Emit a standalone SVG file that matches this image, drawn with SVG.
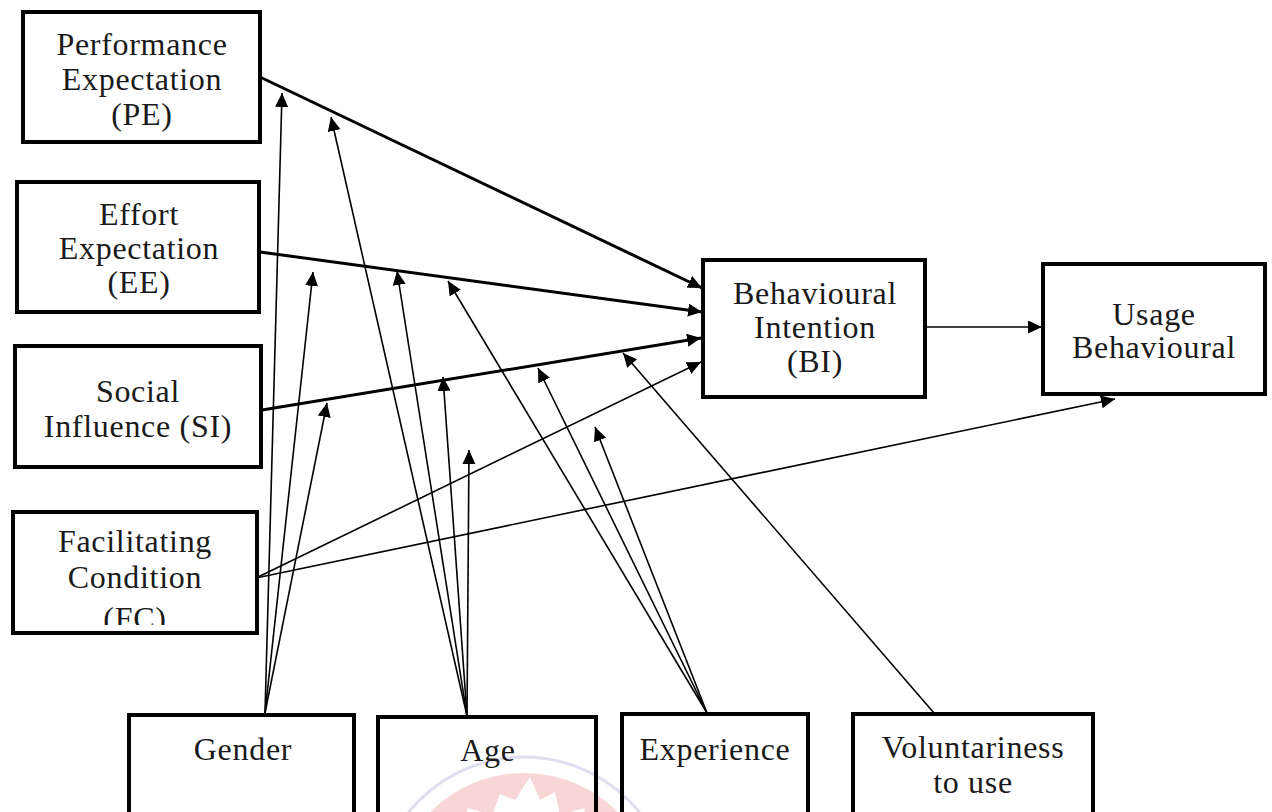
<svg xmlns="http://www.w3.org/2000/svg" width="1272" height="812" viewBox="0 0 1272 812">
<style>
.box{fill:none;stroke:#000;stroke-width:4}
.lbl{font-family:"Liberation Serif","Times New Roman",serif;font-size:32px;letter-spacing:0.7px;fill:#1a1a1a;text-anchor:middle}
.thick{stroke:#000;stroke-width:3;fill:none;marker-end:url(#ah)}
.thin{stroke:#000;stroke-width:1.6;fill:none;marker-end:url(#ah)}
</style>
<defs>
<marker id="ah" markerUnits="userSpaceOnUse" markerWidth="16" markerHeight="14" refX="14" refY="6.5" orient="auto">
<path d="M0,0 L14,6.5 L0,13 Z" fill="#000"/>
</marker>
<clipPath id="fcclip"><rect x="0" y="500" width="300" height="125"/></clipPath>
</defs>
<rect width="1272" height="812" fill="#fff"/>
<g id="watermark" opacity="0.6">
<circle cx="524" cy="905" r="148" fill="none" stroke="#c9c9e4" stroke-width="3"/>
<circle cx="524" cy="905" r="132" fill="#f6bcbc"/>
<polygon fill="#fff" points="530,777 540,800 555,792 560,815 585,808 580,830 460,830 468,808 492,815 500,794 515,800"/>
</g>
<g id="PE"><rect class="box" x="23" y="12" width="237" height="130"/>
<text class="lbl" x="142" y="55">Performance</text><text class="lbl" x="142" y="90">Expectation</text><text class="lbl" x="142" y="125">(PE)</text></g>
<g id="EE"><rect class="box" x="17" y="182" width="242" height="130"/>
<text class="lbl" x="139" y="225">Effort</text><text class="lbl" x="139" y="259">Expectation</text><text class="lbl" x="139" y="293">(EE)</text></g>
<g id="SI"><rect class="box" x="15" y="346" width="246" height="121"/>
<text class="lbl" x="138" y="402">Social</text><text class="lbl" x="138" y="437">Influence (SI)</text></g>
<g id="FC"><rect class="box" x="13" y="512" width="244" height="121"/>
<text class="lbl" x="135" y="552">Facilitating</text><text class="lbl" x="135" y="588">Condition</text>
<text class="lbl" x="135" y="629" clip-path="url(#fcclip)">(FC)</text></g>
<g id="BI"><rect class="box" x="703" y="260" width="222" height="137"/>
<text class="lbl" x="815" y="304">Behavioural</text><text class="lbl" x="815" y="338">Intention</text><text class="lbl" x="815" y="372">(BI)</text></g>
<g id="UB"><rect class="box" x="1043" y="264" width="222" height="130"/>
<text class="lbl" x="1154" y="325">Usage</text><text class="lbl" x="1154" y="358">Behavioural</text></g>
<g id="Gender"><rect class="box" x="129" y="715" width="225" height="120"/>
<text class="lbl" x="243" y="760">Gender</text></g>
<g id="Age"><rect class="box" x="378" y="717" width="218" height="120"/>
<text class="lbl" x="488" y="761">Age</text></g>
<g id="Experience"><rect class="box" x="622" y="714" width="186" height="120"/>
<text class="lbl" x="715" y="760">Experience</text></g>
<g id="Voluntariness"><rect class="box" x="853" y="714" width="240" height="120"/>
<text class="lbl" x="973" y="758">Voluntariness</text><text class="lbl" x="973" y="793">to use</text></g>
<g id="connectors">
<line class="thick" x1="260" y1="77" x2="702" y2="288"/>
<line class="thick" x1="260" y1="252" x2="702" y2="312"/>
<line class="thick" x1="262" y1="410" x2="701" y2="338"/>
<line class="thin" x1="256" y1="578" x2="701" y2="362"/>
<line class="thin" x1="256" y1="578" x2="1115" y2="399"/>
<line class="thin" x1="925" y1="327" x2="1042" y2="327"/>
<line class="thin" x1="265" y1="713" x2="282" y2="93"/>
<line class="thin" x1="265" y1="713" x2="313" y2="272"/>
<line class="thin" x1="265" y1="713" x2="327" y2="403"/>
<line class="thin" x1="467" y1="716" x2="331" y2="117"/>
<line class="thin" x1="467" y1="716" x2="397" y2="271"/>
<line class="thin" x1="467" y1="716" x2="443" y2="377"/>
<line class="thin" x1="467" y1="716" x2="469" y2="450"/>
<line class="thin" x1="707" y1="713" x2="448" y2="281"/>
<line class="thin" x1="707" y1="713" x2="538" y2="368"/>
<line class="thin" x1="707" y1="713" x2="595" y2="427"/>
<line class="thin" x1="934" y1="713" x2="623" y2="353"/>
</g>
</svg>
